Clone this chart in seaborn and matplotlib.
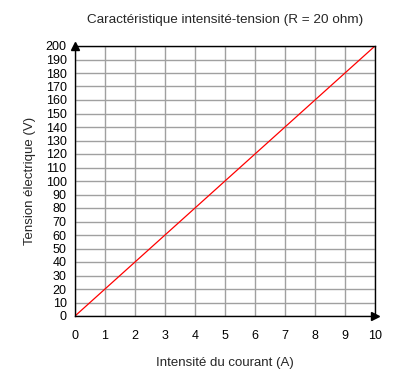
import numpy as np
import pandas as pd
import matplotlib
matplotlib.use("Agg")
import matplotlib.pyplot as plt
import seaborn as sns

# data: U = R * I with R = 20 ohm
intensite = [0, 1, 2, 3, 4, 5, 6, 7, 8, 9, 10]
tension = [0, 20, 40, 60, 80, 100, 120, 140, 160, 180, 200]
x_ticks = list(range(0, 11))
y_ticks = list(range(0, 201, 10))

sns.set_style("white")
plt.rcParams['font.family'] = ['Liberation Sans', 'DejaVu Sans']

df = pd.DataFrame({"I": intensite, "U": tension})

fig = plt.figure(figsize=(3.97, 3.82), dpi=100)
ax = fig.add_axes([75 / 397, 66 / 382, 300 / 397, 270 / 382])

sns.lineplot(data=df, x="I", y="U", ax=ax, color="#ff0000", linewidth=0.9)

ax.set_xlim(0, 10)
ax.set_ylim(0, 200)
ax.set_xticks(x_ticks)
ax.set_yticks(y_ticks)
ax.tick_params(length=0, labelsize=9, colors="black")
ax.tick_params(axis="x", pad=10)
ax.tick_params(axis="y", pad=6)
ax.grid(True, color="#a0a0a0", linewidth=1)
ax.set_axisbelow(True)
for s in ax.spines.values():
    s.set_color("black")
    s.set_linewidth(1)

# arrow heads at the end of the axes
ax.plot(0, 1, marker="^", color="black", markersize=6, transform=ax.transAxes, clip_on=False)
ax.plot(1, 0, marker=">", color="black", markersize=6, transform=ax.transAxes, clip_on=False)

ax.set_xlabel("Intensité du courant (A)", fontsize=9.5, labelpad=11)
ax.set_ylabel("Tension électrique (V)", fontsize=9.5, labelpad=7)
fig.text(225 / 397, 1 - 20 / 382, "Caractéristique intensité-tension (R = 20 ohm)",
         ha="center", va="center", fontsize=9.7)

fig.savefig("out.png", dpi=100)
